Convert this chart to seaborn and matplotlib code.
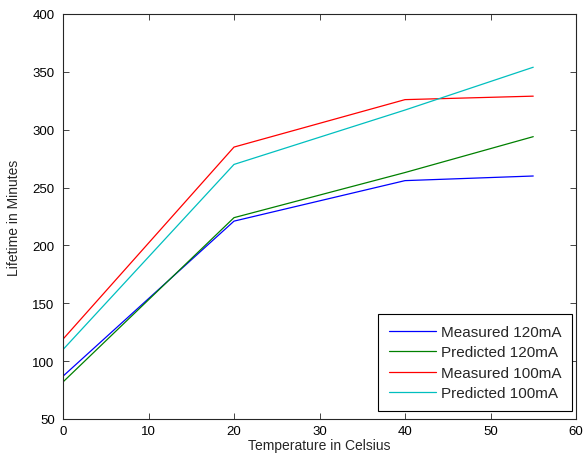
import pandas as pd
import seaborn as sns
import matplotlib.pyplot as plt

temps = [0, 20, 40, 55]
measured_120 = [87, 221, 256, 260]
predicted_120 = [82, 224, 263, 294]
measured_100 = [119, 285, 326, 329]
predicted_100 = [110, 270, 317, 354]

series = ['Measured 120mA', 'Predicted 120mA', 'Measured 100mA', 'Predicted 100mA']
colors = ['#0000ff', '#008000', '#ff0000', '#00bfbf']

rows = []
for name, vals in zip(series, [measured_120, predicted_120, measured_100, predicted_100]):
    for t, v in zip(temps, vals):
        rows.append({'Temperature': t, 'Lifetime': v, 'Series': name})
df = pd.DataFrame(rows)

sns.set_style("ticks")
plt.rcParams['font.family'] = ['Liberation Sans', 'DejaVu Sans']

fig = plt.figure(figsize=(5.84, 4.64), dpi=100)
ax = fig.add_axes([63 / 584, 1 - 420 / 464, 513 / 584, 405 / 464])
sns.lineplot(data=df, x='Temperature', y='Lifetime', hue='Series',
             hue_order=series, palette=colors, linewidth=0.9, ax=ax)

ax.set_xlim(0, 60)
ax.set_ylim(50, 400)
ax.set_xticks(range(0, 61, 10))
ax.set_yticks(range(50, 401, 50))
ax.tick_params(direction='in', top=True, right=True, labelsize=9.5, length=4,
               width=0.6, colors='#262626', labelcolor='black')
ax.tick_params(axis='x', pad=4)
ax.tick_params(axis='y', pad=6)
for s in ax.spines.values():
    s.set_visible(True)
    s.set_linewidth(0.8)
    s.set_color('#262626')
ax.set_xlabel('Temperature in Celsius', fontsize=10, labelpad=1)
ax.set_ylabel('Lifetime in Minutes', fontsize=10, labelpad=8)

leg = ax.legend(loc='lower right', bbox_to_anchor=(572 / 584, 1 - 412 / 464),
                bbox_transform=fig.transFigure, borderaxespad=0,
                fontsize=11, fancybox=False, framealpha=1,
                edgecolor='black', handlelength=3.1, borderpad=0.7,
                labelspacing=0.42, handletextpad=0.3)
leg.get_frame().set_linewidth(0.8)

fig.savefig('out.png', dpi=100)
